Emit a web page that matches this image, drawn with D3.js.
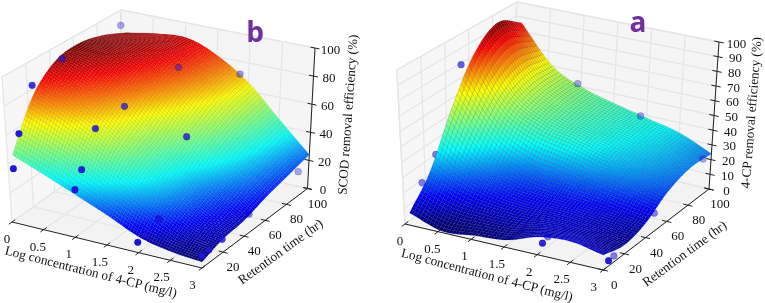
<!DOCTYPE html>
<html lang="en">
<head>
<meta charset="UTF-8">
<title>Removal efficiency surfaces</title>
<script src="https://d3js.org/d3.v7.min.js"></script>
<style>
  body { margin: 0; background: #fff; }
  svg { display: block; filter: blur(0.35px); }
  text { font-family: "Liberation Serif", serif; fill: #111; }
</style>
</head>
<body>
<div id="wrapper"></div>
<script>
// values
const xTicks = [0, 0.5, 1, 1.5, 2, 2.5, 3];
const xLabels = ["0", "0.5", "1", "1.5", "2", "2.5", "3"];

const yTicksB = [20, 40, 60, 80, 100];
const zTicksB = [0, 20, 40, 60, 80, 100];
const yTicksA = [0, 20, 40, 60, 80, 100];
const zTicksA = [0, 10, 20, 30, 40, 50, 60, 70, 80, 90, 100];

// surface heights, one row per 20 hr step, one column per xTicks
const surfaceB = [
  [47, 38, 29, 20, 10.5, 6, 4],
  [78, 68, 56, 42, 28, 15, 9],
  [93, 84, 71, 53, 37, 22, 11],
  [96, 92, 82, 67, 50, 32, 16],
  [92, 92, 88, 76, 60, 39, 20],
  [84, 88, 89, 80, 65, 44, 24]
];
const surfaceA = [
  [8, 1, 3, 5, 12, 14, 10],
  [25, 16, 12, 11, 12, 10, 6],
  [56, 34, 22, 18, 16, 13, 10],
  [84, 54, 42, 37, 31, 26, 20],
  [96, 61, 48, 41, 36, 31, 25],
  [86, 60, 49, 43, 38, 33, 24]
];

// measured points: concentration, retention time, efficiency, 1 = sits behind the surface
const dotsBx = [0, 0, 0.08, 0.11, 0.08, 1.17, 2.07, 1.13, 1.03, 2.26, 0.97, 0.94, 2.84, 2.16, 2.02, 1.99, 2.74, 2.9, 2.94, 3];
const dotsBy = [100, 50, 20, 5, 0, 85, 88, 40, 20, 30, 10, 5, 100, 10, 5, 0, 60, 25, 10, 0];
const dotsBz = [88.7, 89.2, 85.6, 59.6, 37.6, 76.8, 78.9, 71.3, 64.7, 66, 40.8, 29.3, 10.4, 19.2, 9.7, 6.9, 1.7, 5, 6.2, 8.2];
const dotsBbehind = [0, 0, 0, 0, 0, 0, 0, 0, 0, 0, 0, 0, 0, 0, 0, 0, 1, 0, 0, 0];

const dotsAx = [0.06, 0.95, 1.91, 2.88, 0, 0, 2.73, 1.92, 1.92, 3, 3];
const dotsAy = [50, 100, 100, 100, 30, 17, 65, 10, 15, 5, 10];
const dotsAz = [81.1, 51.5, 38.7, 19.2, 30, 18, 0, 1.4, 2.9, 3.5, 4];
const dotsAbehind = [0, 0, 0, 0, 1, 1, 1, 0, 1, 0, 1];

const width = 765, height = 303;

const jet = d3.scaleLinear()
  .domain([0, 0.11, 0.34, 0.65, 0.89, 1])
  .range(["#00007f", "#0000ff", "#00ffff", "#ffff00", "#ff0000", "#7f0000"])
  .clamp(true);

const svg = d3.select("#wrapper").append("svg")
  .attr("width", width).attr("height", height);

// smooth spline through the read values, only used to draw the fine mesh
function catmull(p0, p1, p2, p3, t) {
  return 0.5 * (2 * p1 + (p2 - p0) * t + (2 * p0 - 5 * p1 + 4 * p2 - p3) * t * t + (3 * p1 - p0 - 3 * p2 + p3) * t * t * t);
}
function sampleRow(row, u) {
  const n = row.length - 1;
  const i = Math.min(Math.floor(u * n), n - 1);
  const at = k => k < 0 ? 2 * row[0] - row[1] : k > n ? 2 * row[n] - row[n - 1] : row[k];
  return catmull(at(i - 1), at(i), at(i + 1), at(i + 2), u * n - i);
}
function sampleSurface(grid, u, v) {
  return sampleRow(grid.map(r => sampleRow(r, u)), v);
}

function drawPanel(p) {
  const sx = d3.scaleLinear().domain([0, 3]).range([0, 1]);
  const sy = d3.scaleLinear().domain([0, 100]).range([0, 1]);
  const sz = d3.scaleLinear().domain([0, 100]).range([0, 1]);
  const mix = (a, b, t) => [a[0] + (b[0] - a[0]) * t, a[1] + (b[1] - a[1]) * t];

  // box corners on screen -> any data point on screen
  const project = (x, y, z) => {
    const u = sx(x), v = sy(y), w = sz(z);
    const floor = mix(mix(p.floor[0], p.floor[1], u), mix(p.floor[3], p.floor[2], u), v);
    const top = mix(mix(p.top[0], p.top[1], u), mix(p.top[3], p.top[2], u), v);
    return mix(floor, top, w);
  };

  const line = d3.line();
  const g = svg.append("g");

  // walls and floor
  const wall = (pts, fill) => g.append("path").attr("d", line(pts) + "Z").attr("fill", fill);
  wall([project(0, 0, 0), project(3, 0, 0), project(3, 100, 0), project(0, 100, 0)], "#f3f3f3");
  wall([project(0, 0, 0), project(0, 100, 0), project(0, 100, 100), project(0, 0, 100)], "#f7f7f7");
  wall([project(0, 100, 0), project(3, 100, 0), project(3, 100, 100), project(0, 100, 100)], "#f5f5f5");

  const gridLines = [];
  p.zTicks.forEach(z => {
    gridLines.push([project(0, 0, z), project(0, 100, z)]);
    gridLines.push([project(0, 100, z), project(3, 100, z)]);
  });
  p.yTicks.forEach(y => {
    gridLines.push([project(0, y, 0), project(0, y, 100)]);
    gridLines.push([project(0, y, 0), project(3, y, 0)]);
  });
  xTicks.forEach(x => {
    gridLines.push([project(x, 100, 0), project(x, 100, 100)]);
    gridLines.push([project(x, 0, 0), project(x, 100, 0)]);
  });
  gridLines.push([project(0, 0, 0), project(0, 0, 100)]);
  gridLines.push([project(0, 0, 100), project(0, 100, 100)]);
  gridLines.push([project(0, 100, 100), project(3, 100, 100)]);
  gridLines.push([project(0, 100, 0), project(0, 100, 100)]);

  g.append("g").selectAll("path").data(gridLines).join("path")
    .attr("d", d => line(d))
    .attr("fill", "none").attr("stroke", "#e6e6e6").attr("stroke-width", 1.3);

  // axes
  const axisLines = [
    [project(0, 0, 0), project(3, 0, 0)],
    [project(3, 0, 0), project(3, 100, 0)],
    [project(3, 100, 0), project(3, 100, 100)]
  ];
  xTicks.forEach(x => axisLines.push([project(x, -3, 0), project(x, 3, 0)]));
  p.yTicks.forEach(y => axisLines.push([project(2.93, y, 0), project(3.07, y, 0)]));
  p.zTicks.forEach(z => axisLines.push([project(2.93, 100, z), project(3.07, 100, z)]));
  g.append("g").selectAll("path").data(axisLines).join("path")
    .attr("d", d => line(d))
    .attr("fill", "none").attr("stroke", "#222").attr("stroke-width", 1);

  const dots = p.dotsX.map((x, i) => ({ x, y: p.dotsY[i], z: p.dotsZ[i], behind: p.dotsBehind[i] === 1 }));
  const dotOpacity = d3.scaleLinear().domain([0, 100]).range([1, 0.36]);
  const drawDots = list => g.append("g").selectAll("circle").data(list).join("circle")
    .attr("cx", d => project(d.x, d.y, d.z)[0])
    .attr("cy", d => project(d.x, d.y, d.z)[1])
    .attr("r", 3.4)
    .attr("fill", "#1f14dc")
    .attr("fill-opacity", d => d.behind ? 0.55 : dotOpacity(d.y))
    .attr("stroke", "#000050").attr("stroke-width", 0.6).attr("stroke-opacity", 0.3);

  drawDots(dots.filter(d => d.behind));

  // surface, back cells first
  const cells = [];
  const n = p.meshSize;
  const xStart = 0.08;
  for (let j = n - 1; j >= 0; j--) {
    for (let i = 0; i < n; i++) {
      const corners = [[i, j], [i + 1, j], [i + 1, j + 1], [i, j + 1]].map(([a, b]) => {
        const z = sampleSurface(p.surface, a / n, b / n);
        return { pos: project(xStart + (3 - xStart) * a / n, 100 * b / n, z), z };
      });
      cells.push({ pts: corners.map(c => c.pos), z: d3.mean(corners, c => c.z) });
    }
  }
  const colorScale = d3.scaleLinear().domain(p.colorRange).range([0, 1]);
  g.append("g").selectAll("path").data(cells).join("path")
    .attr("d", d => line(d.pts) + "Z")
    .attr("fill", d => jet(colorScale(d.z)))
    .attr("stroke", "#000").attr("stroke-opacity", p.meshOpacity).attr("stroke-width", p.meshWidth);

  drawDots(dots.filter(d => !d.behind));

  // tick labels
  const labels = g.append("g").attr("font-size", 13).attr("text-anchor", "middle");
  xTicks.forEach((x, i) => {
    const [tx, ty] = project(x, 0, 0);
    labels.append("text").attr("x", tx - 5 - 1.5 * x).attr("y", ty + 21).text(xLabels[i]);
  });
  p.yTicks.forEach(y => {
    const [tx, ty] = project(3, y, 0);
    labels.append("text").attr("x", tx + p.yLabelDx).attr("y", ty + 19).text(y);
  });
  p.zTicks.forEach(z => {
    const [tx, ty] = project(3, 100, z);
    labels.append("text").attr("x", tx + p.zLabelDx).attr("y", ty + 5.5).text(z);
  });

  // axis titles
  const titles = g.append("g").attr("font-size", 13.2).attr("text-anchor", "middle");
  p.titles.forEach(t => {
    titles.append("text")
      .attr("transform", `translate(${t.x},${t.y}) rotate(${t.angle})`)
      .text(t.text);
  });

  g.append("text")
    .attr("x", p.letter.x).attr("y", p.letter.y)
    .attr("text-anchor", "middle")
    .style("font-family", "'Open Sans', sans-serif")
    .style("font-weight", 700)
    .style("font-size", "28px")
    .style("fill", "#7030a0")
    .text(p.letter.text);
}

drawPanel({
  floor: [[12, 222], [202, 268], [307.5, 188.5], [119, 146]],
  top: [[2, 77], [201, 118], [315, 48], [121, 10]],
  surface: surfaceB,
  colorRange: [5, 96],
  meshSize: 70,
  meshOpacity: 0.22,
  meshWidth: 0.35,
  dotsX: dotsBx,
  dotsY: dotsBy,
  dotsZ: dotsBz,
  dotsBehind: dotsBbehind,
  yTicks: yTicksB,
  zTicks: zTicksB,
  yLabelDx: 10,
  zLabelDx: 15.5,
  letter: { text: "b", x: 255, y: 42 },
  titles: [
    { text: "Log concentration of 4-CP (mg/l)", x: 90, y: 276, angle: 14.2 },
    { text: "Retention time (hr)", x: 283, y: 255, angle: -36 },
    { text: "SCOD removal efficiency (%)", x: 352, y: 115, angle: -86 }
  ]
});

drawPanel({
  floor: [[405, 224], [603.3, 270], [709, 189], [512, 142]],
  top: [[396.7, 70], [602, 120], [719, 42], [516.7, 2]],
  surface: surfaceA,
  colorRange: [4, 96],
  meshSize: 60,
  meshOpacity: 0.3,
  meshWidth: 0.4,
  dotsX: dotsAx,
  dotsY: dotsAy,
  dotsZ: dotsAz,
  dotsBehind: dotsAbehind,
  yTicks: yTicksA,
  zTicks: zTicksA,
  yLabelDx: 11,
  zLabelDx: 17.5,
  letter: { text: "a", x: 638, y: 32 },
  titles: [
    { text: "Log concentration of 4-CP (mg/l)", x: 486, y: 279, angle: 14.7 },
    { text: "Retention time (hr)", x: 687, y: 257, angle: -36.5 },
    { text: "4-CP removal efficiency (%)", x: 755.5, y: 113, angle: -85.5 }
  ]
});
</script>
</body>
</html>
